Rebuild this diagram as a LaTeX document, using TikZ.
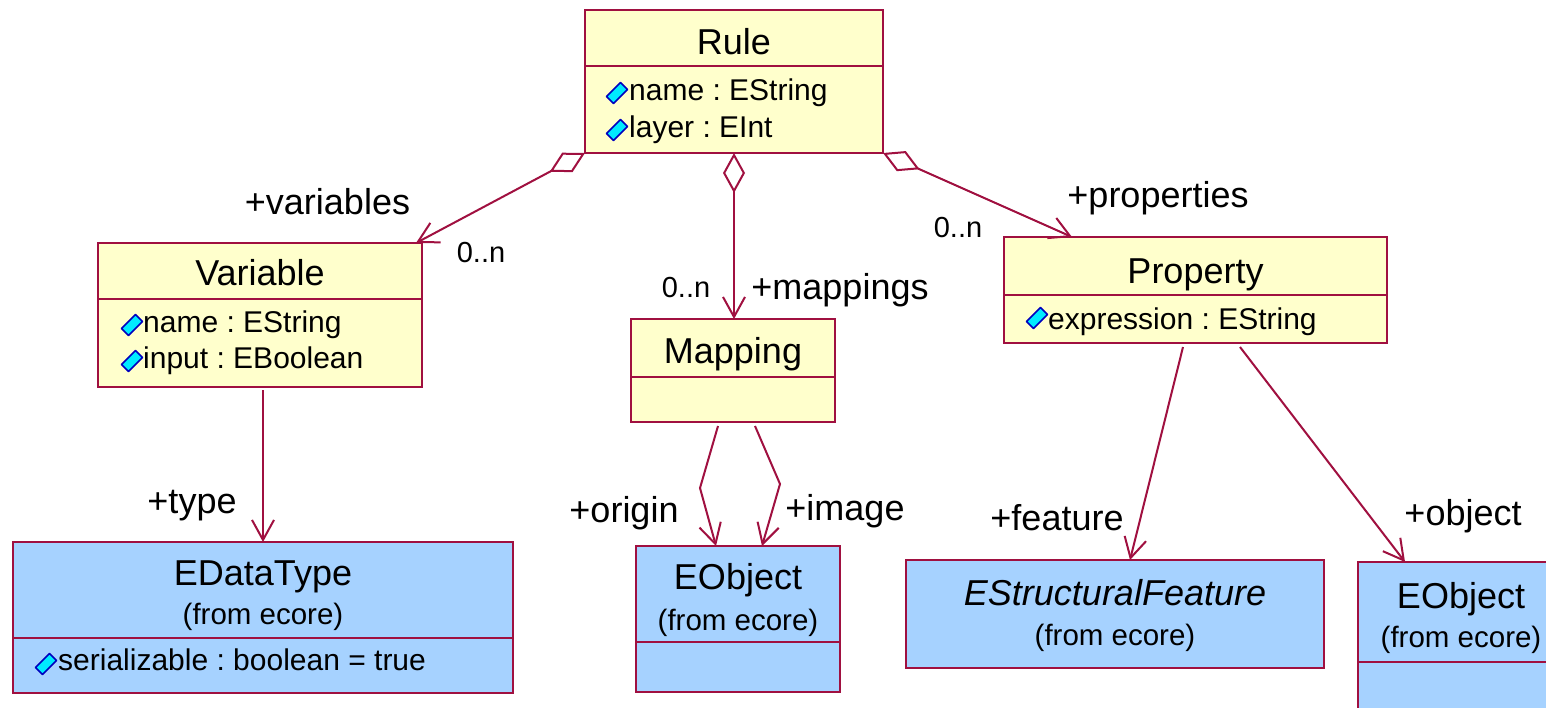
\documentclass[tikz,border=0pt]{standalone}
\usepackage{fontspec}
\setmainfont{Liberation Sans}
\usetikzlibrary{arrows.meta,calc}
\definecolor{umlline}{RGB}{160,16,64}
\definecolor{umlyellow}{RGB}{255,255,204}
\definecolor{umlblue}{RGB}{166,210,255}
\definecolor{attrfill}{RGB}{0,235,255}
\definecolor{attrline}{RGB}{0,0,190}
\frenchspacing
\begin{document}
\begin{tikzpicture}[x=1pt,y=-1pt,
  classbox/.style={draw=umlline, line width=2pt, inner sep=0pt, outer sep=0pt, anchor=north west},
  ownbox/.style={classbox, fill=umlyellow},
  ecorebox/.style={classbox, fill=umlblue},
  divider/.style={draw=umlline, line width=2pt},
  titletext/.style={font=\fontsize{36}{40}\selectfont, inner sep=0pt, anchor=base},
  attrtext/.style={font=\fontsize{30}{34}\selectfont, inner sep=0pt, anchor=base west},
  fromtext/.style={font=\fontsize{29.5}{34}\selectfont, inner sep=0pt, anchor=base},
  roletext/.style={font=\fontsize{36}{40}\selectfont, inner sep=0pt, anchor=base},
  multtext/.style={font=\fontsize{29}{34}\selectfont, inner sep=0pt, anchor=base},
  assoc/.style={draw=umlline, line width=2pt, -{Straight Barb[length=20pt,width=22pt]}},
  aggr/.style={draw=umlline, line width=2pt,
    {Diamond[open,length=40pt,width=22pt]}-{Straight Barb[length=20pt,width=22pt]}},
  attricon/.pic={\filldraw[fill=attrfill, draw=attrline, line width=1.6pt, line join=round]
    (-10.5,3.5) -- (-3.5,10.5) -- (10.5,-3.5) -- (3.5,-10.5) -- cycle;}
]
\clip (0,0) rectangle (1546,707);
\fill[white] (0,0) rectangle (1546,707);

% ---- Rule ----
\node[ownbox, minimum width=298pt, minimum height=143pt] (rule) at (585,10) {};
\draw[divider] ($(rule.north west)+(0,56)$) -- ($(rule.north east)+(0,56)$);
\node[titletext] (ruleT) at (734,54) {Rule};
\pic at (617,93) {attricon};
\node[attrtext] (ruleA1) at (629,100) {name : EString};
\pic at (617,130) {attricon};
\node[attrtext] (ruleA2) at (629,137) {layer : EInt};

% ---- Variable ----
\node[ownbox, minimum width=324pt, minimum height=144pt] (variable) at (98,243) {};
\draw[divider] ($(variable.north west)+(0,56)$) -- ($(variable.north east)+(0,56)$);
\node[titletext] (variableT) at (260,285) {Variable};
\pic at (132,325) {attricon};
\node[attrtext] (variableA1) at (143,332) {name : EString};
\pic at (132,361) {attricon};
\node[attrtext] (variableA2) at (143,368) {input : EBoolean};

% ---- Mapping ----
\node[ownbox, minimum width=204pt, minimum height=103pt] (mapping) at (631,319) {};
\draw[divider] ($(mapping.north west)+(0,58)$) -- ($(mapping.north east)+(0,58)$);
\node[titletext] (mappingT) at (733,363) {Mapping};

% ---- Property ----
\node[ownbox, minimum width=383pt, minimum height=106pt] (property) at (1004,237) {};
\draw[divider] ($(property.north west)+(0,58)$) -- ($(property.north east)+(0,58)$);
\node[titletext] (propertyT) at (1195.5,283) {Property};
\pic at (1037,318) {attricon};
\node[attrtext] (propertyA1) at (1048,329) {expression : EString};

% ---- EDataType ----
\node[ecorebox, minimum width=500pt, minimum height=151pt] (edatatype) at (13,542) {};
\draw[divider] ($(edatatype.north west)+(0,96)$) -- ($(edatatype.north east)+(0,96)$);
\node[titletext] (edatatypeT) at (263,585) {EDataType};
\node[fromtext] (edatatypeF) at (263,624) {(from ecore)};
\pic at (46,664) {attricon};
\node[attrtext] (edatatypeA1) at (58,670) {serializable : boolean = true};

% ---- EObject (mapping ends) ----
\node[ecorebox, minimum width=204pt, minimum height=146pt] (eobjectA) at (636,546) {};
\draw[divider] ($(eobjectA.north west)+(0,96)$) -- ($(eobjectA.north east)+(0,96)$);
\node[titletext] (eobjectAT) at (738,589) {EObject};
\node[fromtext] (eobjectAF) at (738,630) {(from ecore)};

% ---- EStructuralFeature ----
\node[ecorebox, minimum width=418pt, minimum height=108pt] (esf) at (906,560) {};
\node[titletext, font=\fontsize{36}{40}\selectfont\itshape] (esfT) at (1115,605) {EStructuralFeature};
\node[fromtext] (esfF) at (1115,645) {(from ecore)};

% ---- EObject (property object) ----
\node[ecorebox, minimum width=206pt, minimum height=170pt] (eobjectB) at (1358,562) {};
\draw[divider] ($(eobjectB.north west)+(0,100)$) -- ($(eobjectB.north east)+(0,100)$);
\node[titletext] (eobjectBT) at (1461,608) {EObject};
\node[fromtext] (eobjectBF) at (1461,647) {(from ecore)};

% ---- aggregations from Rule ----
\draw[aggr] (rule.south west) -- ([xshift=-6pt]variable.north east);
\node[roletext] (varRole) at (327.5,214) {+variables};
\node[multtext] (varMult) at (481,262) {0..n};

\draw[aggr] (rule.south) -- (rule.south |- mapping.north);
\node[multtext] (mapMult) at (686,297) {0..n};
\node[roletext] (mapRole) at (840,299) {+mappings};

\draw[aggr] (rule.south east) -- ([xshift=68pt]property.north west);
\node[roletext] (propRole) at (1158,207) {+properties};
\node[multtext] (propMult) at (958,237) {0..n};

% ---- plain associations ----
\draw[assoc] ([xshift=3pt,yshift=-3pt]variable.south) -- (edatatype.north);
\node[roletext] (typeRole) at (192,513) {+type};

\draw[assoc] ([xshift=-15pt,yshift=-4pt]mapping.south) -- ++(-18,62) -- ([xshift=-22pt]eobjectA.north);
\node[roletext] (originRole) at (624,522) {+origin};
\draw[assoc] ([xshift=22pt,yshift=-4pt]mapping.south) -- ++(25,58) -- ([xshift=24pt]eobjectA.north);
\node[roletext] (imageRole) at (845,520) {+image};

\draw[assoc] ([xshift=-12.5pt,yshift=-4pt]property.south) -- ([xshift=15pt]esf.north);
\node[roletext] (featureRole) at (1057,530) {+feature};

\draw[assoc] ([xshift=44.5pt,yshift=-4pt]property.south) -- ([xshift=47pt]eobjectB.north west);
\node[roletext] (objectRole) at (1463,525) {+object};
\end{tikzpicture}
\end{document}
